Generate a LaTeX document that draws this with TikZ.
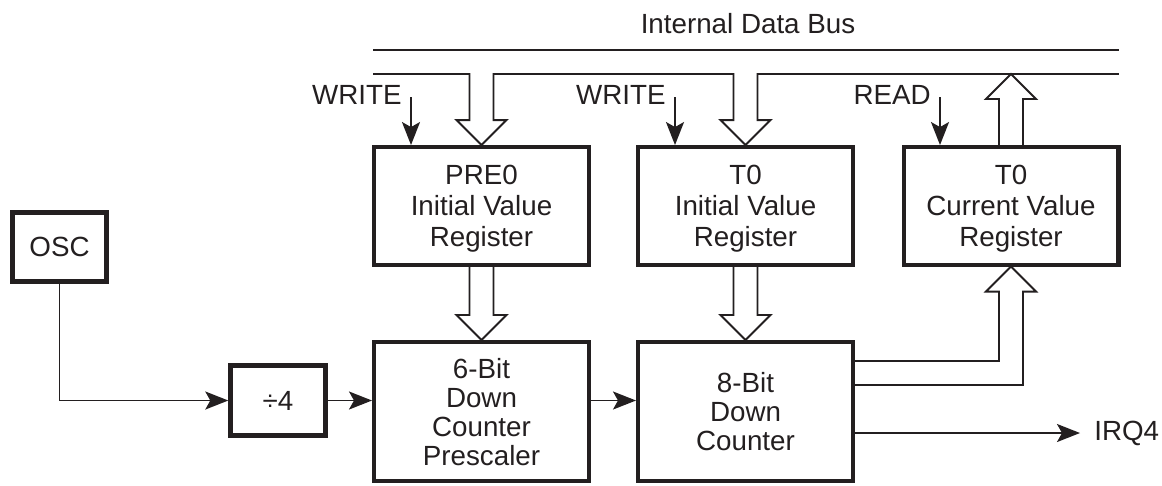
\documentclass[tikz,border=0pt]{standalone}
\usepackage{fontspec}
\setmainfont{Liberation Sans}
\usetikzlibrary{arrows.meta,calc}
\definecolor{ink}{HTML}{231F20}

% hollow bus arrow: tail, tip, 1 = down / -1 = up
\newcommand{\fatarrow}[3]{%
  \draw[fat] ($(#2 |- #1)+(-12,0)$) -- ($(#2)+(-12,{-25*(#3)})$)
    -- ($(#2)+(-25,{-25*(#3)})$) -- (#2) -- ($(#2)+(25,{-25*(#3)})$)
    -- ($(#2)+(12,{-25*(#3)})$) -- ($(#2 |- #1)+(12,0)$);}

\begin{document}
\begin{tikzpicture}[x=0.02cm, y=-0.02cm,
  reg/.style={draw=ink, text=ink, line width=2.3pt, minimum width=4.3cm,
    minimum height=2.35cm, align=center, inner sep=0pt, text depth=0pt,
    font=\fontsize{15.8}{17.9}\selectfont},
  cnt/.style={reg, minimum height=2.78cm, font=\fontsize{15.8}{16.5}\selectfont},
  src/.style={reg, line width=2.8pt, minimum width=1.89cm, minimum height=1.39cm},
  lbl/.style={inner sep=0pt, text=ink, font=\fontsize{15.8}{17.9}\selectfont},
  sig/.style={draw=ink, line width=1.1pt,
    -{Stealth[length=0.46cm,width=0.36cm,inset=0.1cm]}},
  fat/.style={draw=ink, line width=1.1pt, line cap=rect},
  bus/.style={draw=ink, line width=1.2pt}]
\useasboundingbox (0,0) rectangle (1162,485);

% blocks
\node[reg] (pre) at (481.5,205.8) {PRE0\\Initial Value\\Register};
\node[reg] (t0i) at (745.5,205.8) {T0\\Initial Value\\Register};
\node[reg] (t0c) at (1011,205.8) {T0\\Current Value\\Register};
\node[cnt] (presc) at (481.5,411.5) {6-Bit\\Down\\Counter\\Prescaler};
\node[cnt] (cnt8) at (745.5,411.5) {8-Bit\\Down\\Counter};
\node[src] (osc) at (59.5,247) {OSC};
\node[src] (div) at (278,400.5) {÷4};

% internal data bus
\node[lbl, anchor=base] (buslab) at (748,33) {Internal Data Bus};
\coordinate (busw) at (373,50);
\coordinate (buse) at (1119,50);
\coordinate (bus2w) at (373,74);
\coordinate (bus2e) at (1119,74);
\draw[bus] (busw) -- (buse);
\draw[bus] (bus2w) -- ($(pre.north |- bus2w)+(-12,0)$);
\draw[bus] ($(pre.north |- bus2w)+(12,0)$) -- ($(t0i.north |- bus2w)+(-12,0)$);
\draw[bus] ($(t0i.north |- bus2w)+(12,0)$) -- (bus2e);

\fatarrow{bus2w}{pre.north}{1}
\fatarrow{bus2w}{t0i.north}{1}
\coordinate (rdtip) at (t0c.north |- bus2w);
\fatarrow{t0c.north}{rdtip}{-1}
\fatarrow{pre.south}{presc.north}{1}
\fatarrow{t0i.south}{cnt8.north}{1}

% counter value back up to the register
\coordinate (cnto) at ($(cnt8.north east)+(0,21)$);
\draw[fat] (cnto) -| ($(t0c.south)+(-12,25)$) -- ($(t0c.south)+(-25,25)$)
  -- (t0c.south) -- ($(t0c.south)+(25,25)$) -- ($(t0c.south)+(12,25)$)
  |- ($(cnto)+(0,24)$);

% strobes
\foreach \n/\x/\t/\b in {wr1/411/WRITE/pre, wr2/675/WRITE/t0i, rd/940/READ/t0c} {
  \coordinate (\n) at (\x,97);
  \node[lbl, anchor=base east] (\n lab) at ($(\n)+(-9,7)$) {\t};
  \draw[sig] (\n) -- (\n |- \b.north);
}

% clock path
\node[lbl, anchor=west] (irq) at (1094,433) {IRQ4};
\draw[sig] (osc.south) |- (div.west);
\draw[sig] (div.east) -- (div.east -| presc.west);
\draw[sig] (div.east -| presc.east) -- (div.east -| cnt8.west);
\draw[sig, shorten >=0.28cm] (irq.west -| cnt8.east) -- (irq.west);
\end{tikzpicture}
\end{document}
